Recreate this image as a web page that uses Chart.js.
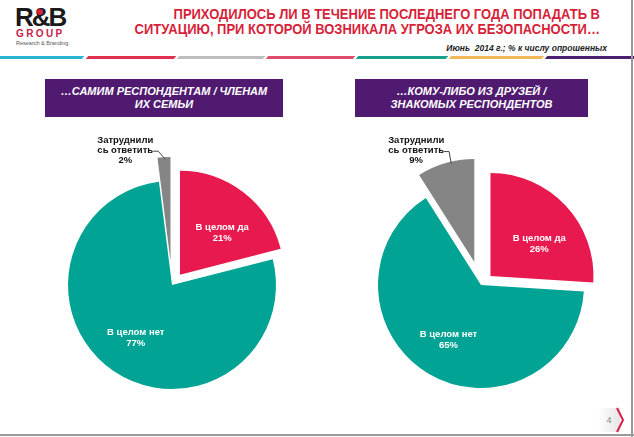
<!DOCTYPE html>
<html>
<head>
<meta charset="utf-8">
<script src="https://cdn.jsdelivr.net/npm/chart.js@4.4.1/dist/chart.umd.min.js"></script>
<style>
  html, body { margin: 0; padding: 0; }
  body { width: 634px; height: 437px; position: relative; overflow: hidden; background: #fff;
         font-family: "Liberation Sans", Arial, sans-serif; }
  .abs { position: absolute; }
  #logo1 { left: 15px; top: 2px; font-size: 26px; font-weight: bold; color: #1a1a1a; letter-spacing: -2px; }
  #logoDot { left: 37px; top: 9px; width: 6px; height: 6px; border-radius: 50%; background: #d8203f; }
  #logo2 { left: 16px; top: 28px; font-size: 10px; font-weight: bold; color: #c8214a; letter-spacing: 2.4px; }
  #logo3 { left: 16px; top: 40px; font-size: 5.5px; color: #555; }
  .title { right: 34px; font-weight: bold; font-size: 15px; color: #d71f3a; white-space: nowrap;
           transform: scaleX(0.865); transform-origin: right center; }
  #sub { right: 27px; top: 43px; font-size: 8.5px; font-weight: bold; font-style: italic; color: #222; }
  .stripe { top: 56px; height: 3px; transform: skewX(-40deg); }
  .hdr { top: 79px; height: 38px; background: #4f1a70; color: #fff; font-weight: bold; font-style: italic;
         font-size: 11px; line-height: 13px; text-align: center; display: flex; align-items: center; justify-content: center; }
  canvas { position: absolute; }
  #pg { left: 598px; top: 408px; width: 22px; height: 24px; background: linear-gradient(90deg, #fff, #e6e6e6);
        color: #888; font-size: 9px; text-align: center; line-height: 24px; }
  #chev { left: 616px; top: 407px; width: 8px; height: 26px; }
</style>
</head>
<body>
<div class="abs" id="logo1">R&amp;B</div>
<div class="abs" id="logoDot"></div>
<div class="abs" id="logo2">GROUP</div>
<div class="abs" id="logo3">Research &amp; Branding</div>

<div class="abs title" style="top:5px">ПРИХОДИЛОСЬ ЛИ В ТЕЧЕНИЕ ПОСЛЕДНЕГО ГОДА ПОПАДАТЬ В</div>
<div class="abs title" style="top:20px">СИТУАЦИЮ, ПРИ КОТОРОЙ ВОЗНИКАЛА УГРОЗА ИХ БЕЗОПАСНОСТИ…</div>
<div class="abs" id="sub">Июнь&nbsp; 2014 г.; % к числу опрошенных</div>

<div class="abs stripe" style="left:-4px;width:87px;background:#2ab3d2"></div>
<div class="abs stripe" style="left:87px;width:88px;background:#e0304f"></div>
<div class="abs stripe" style="left:178px;width:86px;background:#bdbdbd"></div>
<div class="abs stripe" style="left:267px;width:87px;background:#e24c6c"></div>
<div class="abs stripe" style="left:357px;width:90px;background:#17a08d"></div>
<div class="abs stripe" style="left:450px;width:93px;background:#f4b65a"></div>
<div class="abs stripe" style="left:546px;width:90px;background:#4b2071"></div>

<div class="abs hdr" style="left:45px;width:238px">…САМИМ РЕСПОНДЕНТАМ / ЧЛЕНАМ<br>ИХ СЕМЬИ</div>
<div class="abs hdr" style="left:355px;width:233px">…КОМУ-ЛИБО ИЗ ДРУЗЕЙ /<br>ЗНАКОМЫХ РЕСПОНДЕНТОВ</div>

<canvas id="chartLeft" width="300" height="290" style="left:20px;top:120px"></canvas>
<canvas id="chartRight" width="300" height="290" style="left:330px;top:120px"></canvas>

<div class="abs" id="pg">4</div>
<svg class="abs" id="chev" viewBox="0 0 8 26"><polyline points="1,1 7,13 1,25" fill="none" stroke="#d8204a" stroke-width="2"/></svg>
<div class="abs" style="left:631px;top:0;width:2px;height:437px;background:#9a9a9a"></div>
<div class="abs" style="left:0;top:434px;width:634px;height:2px;background:#9a9a9a"></div>

<script>
// data
const categories = ['В целом да', 'В целом нет', 'Затруднились ответить'];
const labelLines = [['В целом да'], ['В целом нет'], ['Затруднили', 'сь ответить']];
const selfValues = [21, 77, 2];      // самим респондентам / членам их семьи
const friendsValues = [26, 65, 9];   // кому-либо из друзей / знакомых
const sliceColors = ['#e8194e', '#00a394', '#858585'];
const explodeBy = [13, 0, 24];       // px each slice is pulled out
const labelAt = [[0.6, 0.57], [0.5, 0.62]];  // [angle fraction, radius fraction] of inner labels

function midDir(p) {
  const a = (p.startAngle + p.endAngle) / 2;
  return [Math.cos(a), Math.sin(a)];
}

// draw the arcs ourselves so a slice is only shifted, not widened/narrowed
const explodedPie = {
  id: 'explodedPie',
  beforeDatasetsDraw(chart) {
    const ctx = chart.ctx;
    chart.getDatasetMeta(0).data.forEach((arc, i) => {
      const p = arc.getProps(['startAngle', 'endAngle'], true);
      const [dx, dy] = midDir(p);
      ctx.save();
      ctx.translate(dx * explodeBy[i], dy * explodeBy[i]);
      arc.draw(ctx, chart.chartArea);
      ctx.restore();
    });
    return false;
  },
  afterDraw(chart, args, opts) {
    const ctx = chart.ctx;
    const ds = chart.data.datasets[0];
    chart.getDatasetMeta(0).data.forEach((arc, i) => {
      const p = arc.getProps(['x', 'y', 'startAngle', 'endAngle', 'outerRadius'], true);
      const [mx, my] = midDir(p);
      const lines = labelLines[i].concat([ds.data[i] + '%']);
      ctx.save();
      ctx.font = 'bold 9.5px "Liberation Sans", Arial, sans-serif';
      ctx.textAlign = 'center';
      ctx.textBaseline = 'middle';
      if (i === 2) {
        const a = p.startAngle + 0.6 * (p.endAngle - p.startAngle);
        const qx = p.x + Math.cos(a) * p.outerRadius + mx * explodeBy[i];
        const qy = p.y + Math.sin(a) * p.outerRadius + my * explodeBy[i];
        const tx = qx + opts.dx, ty = qy + opts.dy;
        ctx.fillStyle = '#111';
        lines.forEach((l, k) => ctx.fillText(l, tx, ty + k * 10));
        const w = ctx.measureText(lines[1]).width;
        ctx.strokeStyle = '#444';
        ctx.lineWidth = 1;
        ctx.beginPath();
        ctx.moveTo(tx + w / 2, ty + 11);
        ctx.lineTo(tx + w / 2 + 5, ty + 11);
        ctx.lineTo(qx, qy + 2);
        ctx.stroke();
      } else {
        const a = p.startAngle + labelAt[i][0] * (p.endAngle - p.startAngle);
        const r = p.outerRadius * labelAt[i][1];
        const tx = p.x + mx * explodeBy[i] + Math.cos(a) * r;
        const ty = p.y + my * explodeBy[i] + Math.sin(a) * r;
        ctx.fillStyle = '#fff';
        lines.forEach((l, k) => ctx.fillText(l, tx, ty + (k - (lines.length - 1) / 2) * 11));
      }
      ctx.restore();
    });
  }
};

function makePie(canvasId, values, radius, padding, callout) {
  return new Chart(document.getElementById(canvasId), {
    type: 'pie',
    data: {
      labels: categories,
      datasets: [{
        data: values,
        backgroundColor: sliceColors,
        borderWidth: 0,
        radius: radius
      }]
    },
    options: {
      responsive: false,
      animation: false,
      layout: { padding: padding },
      plugins: {
        legend: { display: false },
        tooltip: { enabled: false },
        explodedPie: callout
      }
    },
    plugins: [explodedPie]
  });
}

makePie('chartLeft', selfValues, 104, { left: 36, top: 49, right: 32, bottom: 9 }, { dx: -40, dy: -17 });
makePie('chartRight', friendsValues, 103, { left: 36, top: 50, right: 34, bottom: 10 }, { dx: -35, dy: -21 });
</script>
</body>
</html>
